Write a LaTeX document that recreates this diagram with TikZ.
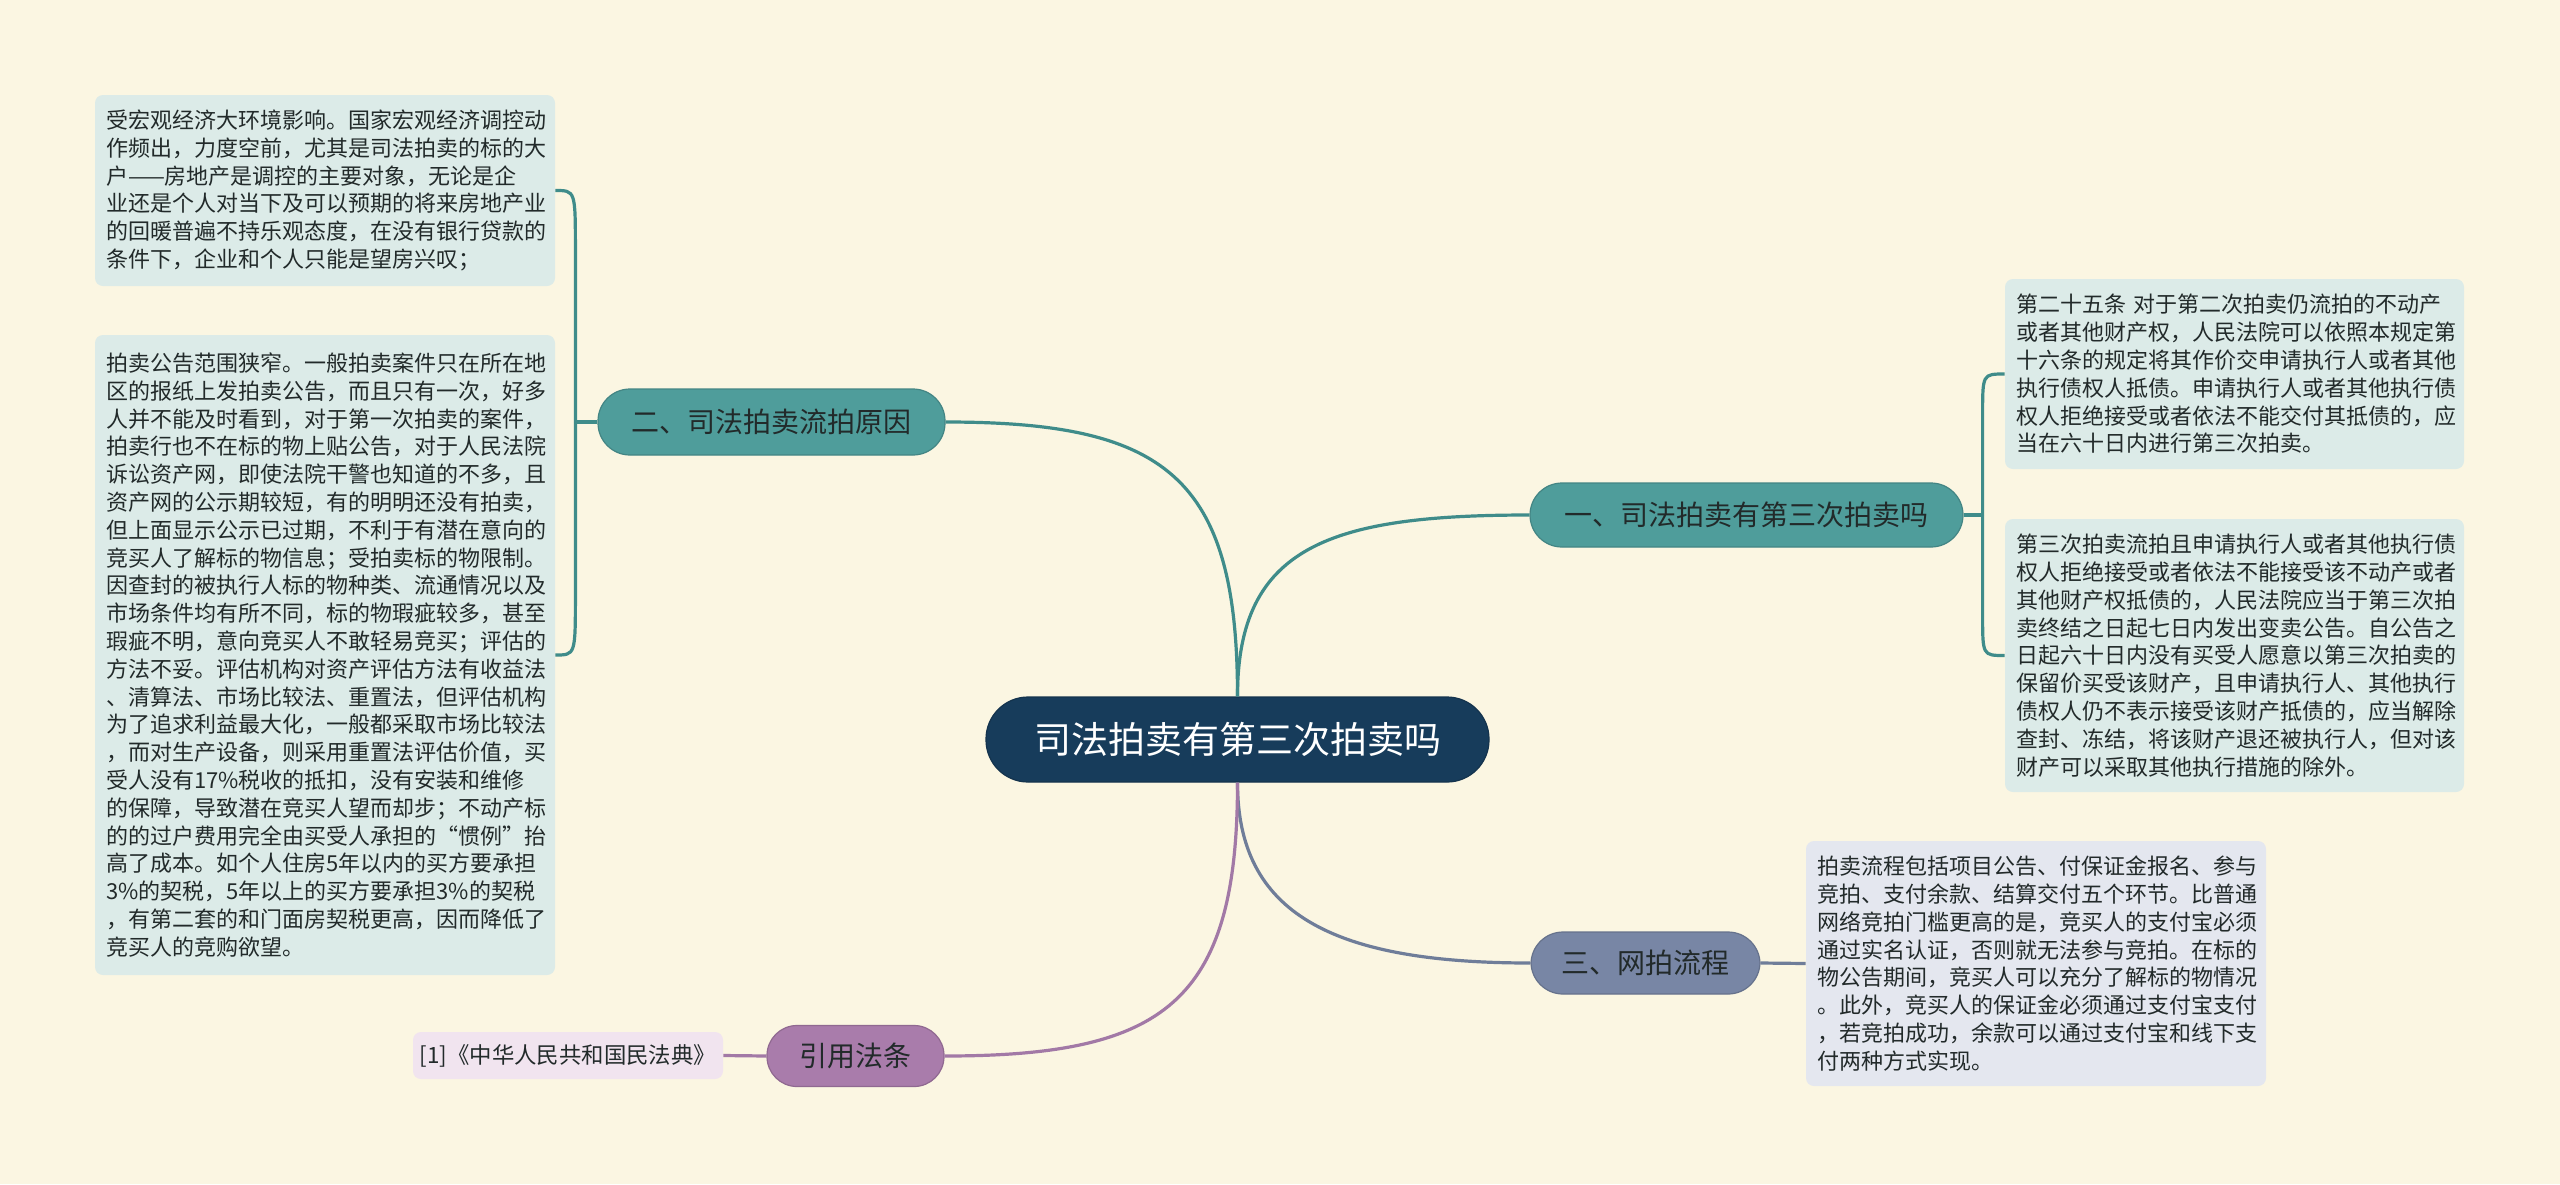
\documentclass[tikz,border=0pt]{standalone}
\usepackage{fontspec}
\setmainfont{Noto Sans CJK SC}
\usetikzlibrary{calc}
\definecolor{bg}{HTML}{FBF6E2}
\definecolor{centralfill}{HTML}{173C5B}
\definecolor{tealfill}{HTML}{4F9D9B}
\definecolor{tealline}{HTML}{3F8C8A}
\definecolor{bluefill}{HTML}{7886A5}
\definecolor{blueline}{HTML}{6F7D99}
\definecolor{purplefill}{HTML}{A97CAB}
\definecolor{purpleline}{HTML}{A279A6}
\definecolor{leafteal}{HTML}{DCEBE8}
\definecolor{leafblue}{HTML}{E4E7EF}
\definecolor{leafpurple}{HTML}{F1E4EF}
\definecolor{txt}{HTML}{222A2A}
\tikzset{
  x=0.5pt, y=-0.5pt,
  central/.style={fill=centralfill, draw=centralfill!85!black, line width=0.6pt, rounded corners=21pt,
    text=white, font=\fontsize{18.5}{22}\selectfont, minimum width=251.5pt, minimum height=42.5pt, inner sep=0pt},
  branch/.style={rounded corners=16pt, text=txt, font=\fontsize{14}{17}\selectfont, inner sep=0pt, line width=0.6pt},
  tealbranch/.style={branch, fill=tealfill, draw=tealfill!85!black},
  bluebranch/.style={branch, fill=bluefill, draw=bluefill!85!black},
  purplebranch/.style={branch, fill=purplefill, draw=purplefill!85!black},
  leaf/.style={rounded corners=4pt, text=txt, align=left, inner xsep=5.5pt, inner ysep=0pt,
    font=\fontsize{11}{13.9}\selectfont, text width=219pt, minimum width=230pt},
  tealleaf/.style={leaf, fill=leafteal},
  blueleaf/.style={leaf, fill=leafblue},
  conn/.style={line width=1.6pt},
}
\begin{document}
\begin{tikzpicture}
\useasboundingbox (0,0) rectangle (2560,1184);
\fill[bg] (0,0) rectangle (2560,1184);

% central
\node[central] (c) at (1237.5,739.5) {司法拍卖有第三次拍卖吗};

% branches
\node[tealbranch, minimum width=216.5pt, minimum height=32pt] (b1) at (1746.5,515) {一、司法拍卖有第三次拍卖吗};
\node[tealbranch, minimum width=173.5pt, minimum height=33pt] (b2) at (771.5,422) {二、司法拍卖流拍原因};
\node[bluebranch, minimum width=114.5pt, minimum height=31pt] (b3) at (1645.5,963) {三、网拍流程};
\node[purplebranch, minimum width=88.5pt, minimum height=30.5pt, rounded corners=15pt] (b4) at (855.5,1056) {引用法条};

% leaves
\node[tealleaf, minimum height=95.5pt] (l1) at (325,190.5) {受宏观经济大环境影响。国家宏观经济调控动\\作频出，力度空前，尤其是司法拍卖的标的大\\户——房地产是调控的主要对象，无论是企\\业还是个人对当下及可以预期的将来房地产业\\的回暖普遍不持乐观态度，在没有银行贷款的\\条件下，企业和个人只能是望房兴叹；};

\node[tealleaf, minimum height=320pt] (l2) at (325,655) {拍卖公告范围狭窄。一般拍卖案件只在所在地\\区的报纸上发拍卖公告，而且只有一次，好多\\人并不能及时看到，对于第一次拍卖的案件，\\拍卖行也不在标的物上贴公告，对于人民法院\\诉讼资产网，即使法院干警也知道的不多，且\\资产网的公示期较短，有的明明还没有拍卖，\\但上面显示公示已过期，不利于有潜在意向的\\竞买人了解标的物信息；受拍卖标的物限制。\\因查封的被执行人标的物种类、流通情况以及\\市场条件均有所不同，标的物瑕疵较多，甚至\\瑕疵不明，意向竞买人不敢轻易竞买；评估的\\方法不妥。评估机构对资产评估方法有收益法\\、清算法、市场比较法、重置法，但评估机构\\为了追求利益最大化，一般都采取市场比较法\\，而对生产设备，则采用重置法评估价值，买\\受人没有17\%税收的抵扣，没有安装和维修\\的保障，导致潜在竞买人望而却步；不动产标\\的的过户费用完全由买受人承担的“惯例”抬\\高了成本。如个人住房5年以内的买方要承担\\3\%的契税，5年以上的买方要承担3\%的契税\\，有第二套的和门面房契税更高，因而降低了\\竞买人的竞购欲望。};

\node[tealleaf, minimum height=95pt, text width=218.5pt, minimum width=229.5pt] (r1) at (2234.5,374) {第二十五条 对于第二次拍卖仍流拍的不动产\\或者其他财产权，人民法院可以依照本规定第\\十六条的规定将其作价交申请执行人或者其他\\执行债权人抵债。申请执行人或者其他执行债\\权人拒绝接受或者依法不能交付其抵债的，应\\当在六十日内进行第三次拍卖。};

\node[tealleaf, minimum height=136.5pt, text width=218.5pt, minimum width=229.5pt] (r2) at (2234.5,655.5) {第三次拍卖流拍且申请执行人或者其他执行债\\权人拒绝接受或者依法不能接受该不动产或者\\其他财产权抵债的，人民法院应当于第三次拍\\卖终结之日起七日内发出变卖公告。自公告之\\日起六十日内没有买受人愿意以第三次拍卖的\\保留价买受该财产，且申请执行人、其他执行\\债权人仍不表示接受该财产抵债的，应当解除\\查封、冻结，将该财产退还被执行人，但对该\\财产可以采取其他执行措施的除外。};

\node[blueleaf, minimum height=122.5pt] (r3) at (2036,963.5) {拍卖流程包括项目公告、付保证金报名、参与\\竞拍、支付余款、结算交付五个环节。比普通\\网络竞拍门槛更高的是，竞买人的支付宝必须\\通过实名认证，否则就无法参与竞拍。在标的\\物公告期间，竞买人可以充分了解标的物情况\\。此外，竞买人的保证金必须通过支付宝支付\\，若竞拍成功，余款可以通过支付宝和线下支\\付两种方式实现。};

\node[fill=leafpurple, rounded corners=4pt, text=txt, inner sep=0pt, minimum width=155pt, minimum height=23.5pt,
  font=\fontsize{11.2}{14}\selectfont] (cite) at (568,1055.5) {[1]《中华人民共和国民法典》};

% central connectors
\draw[conn, tealline] (c.north) .. controls +(0,-150) and +(-200,0) .. (b1.west);
\draw[conn, tealline] (c.north) .. controls +(0,-220) and +(220,0) .. (b2.east);
\draw[conn, blueline] (c.south) .. controls +(0,130) and +(-200,0) .. (b3.west);
\draw[conn, purpleline] (c.south) .. controls +(0,220) and +(220,0) .. (b4.east);

% right bracket
\draw[conn, tealline] (b1.east) -- ++(19,0) coordinate (j1);
\draw[conn, tealline] (j1) -- ($(j1 |- r1.west)+(0,40)$) .. controls (j1 |- r1.west) .. (r1.west);
\draw[conn, tealline] (j1) -- ($(j1 |- r2.west)+(0,-40)$) .. controls (j1 |- r2.west) .. (r2.west);

% left bracket
\draw[conn, tealline] (b2.west) -- ++(-22,0) coordinate (j2);
\draw[conn, tealline] (j2) -- ($(j2 |- l1.east)+(0,60)$) .. controls (j2 |- l1.east) .. (l1.east);
\draw[conn, tealline] (j2) -- ($(j2 |- l2.east)+(0,-60)$) .. controls (j2 |- l2.east) .. (l2.east);

% straight connectors
\draw[conn, blueline] (b3.east) -- (r3.west);
\draw[conn, purpleline] (b4.west) -- (cite.east);
\end{tikzpicture}
\end{document}
